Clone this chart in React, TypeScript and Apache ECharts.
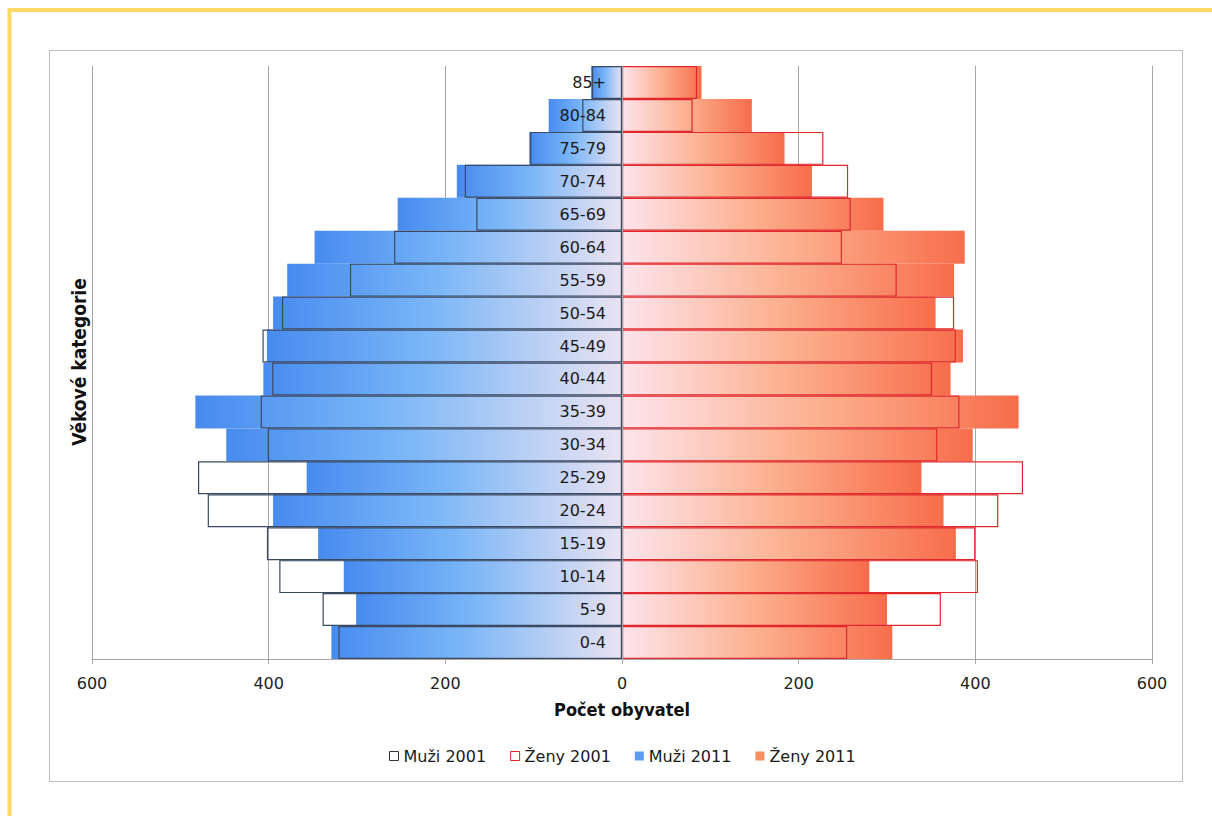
import React, { useEffect, useRef } from "react";
import * as echarts from "echarts";

const categories = ["0-4", "5-9", "10-14", "15-19", "20-24", "25-29", "30-34", "35-39", "40-44", "45-49", "50-54", "55-59", "60-64", "65-69", "70-74", "75-79", "80-84", "85+"];
const muzi2001 = [321, 339, 388, 402, 469, 480, 401, 409, 396, 407, 385, 308, 258, 165, 178, 104, 45, 34];
const zeny2001 = [255, 361, 403, 400, 426, 454, 357, 382, 351, 378, 376, 311, 249, 259, 256, 228, 80, 85];
const muzi2011 = [329, 301, 315, 344, 395, 357, 448, 483, 406, 402, 395, 379, 348, 254, 187, 105, 83, 35];
const zeny2011 = [306, 300, 280, 378, 364, 339, 397, 449, 372, 386, 355, 376, 388, 296, 215, 184, 147, 90];
const xTicks = { min: -600, max: 600, interval: 200 };

const FONT = "'DejaVu Sans', sans-serif";
const FONT_C = "'DejaVu Sans Condensed', 'DejaVu Sans', sans-serif";

const GRID_LEFT = 92;
const GRID_RIGHT = 60;
const CHART_W = 1212;

export default function App() {
  const ref = useRef<HTMLDivElement>(null);
  useEffect(() => {
    if (!ref.current) return;
    const chart = echarts.init(ref.current, null, { renderer: "svg" });
    const blueGrad = new echarts.graphic.LinearGradient(0, 0, 1, 0, [
      { offset: 0, color: "#478bef" },
      { offset: 0.45, color: "#7ab6f7" },
      { offset: 1, color: "#e9e3f2" },
    ]);
    const orangeGrad = new echarts.graphic.LinearGradient(0, 0, 1, 0, [
      { offset: 0, color: "#fde4ec" },
      { offset: 0.5, color: "#fcb08e" },
      { offset: 1, color: "#f76d4b" },
    ]);
    const halfWidth = (CHART_W - GRID_LEFT - GRID_RIGHT) / 2;
    chart.setOption({
      animation: false,
      backgroundColor: "#ffffff",
      grid: { left: GRID_LEFT, right: GRID_RIGHT, top: 66, bottom: 157, containLabel: false },
      legend: {
        bottom: 47,
        left: 384,
        itemWidth: 9,
        itemHeight: 9,
        itemGap: 24,
        icon: "rect",
        textStyle: { fontFamily: FONT, fontSize: 16, color: "#1a1a1a" },
        data: [
          { name: "Muži 2001", itemStyle: { color: "#ffffff", borderColor: "#333333", borderWidth: 1 } },
          { name: "Ženy 2001", itemStyle: { color: "#ffffff", borderColor: "#e0282c", borderWidth: 1 } },
          { name: "Muži 2011", itemStyle: { color: "#5b9bf0", borderWidth: 0 } },
          { name: "Ženy 2011", itemStyle: { color: "#f7915f", borderWidth: 0 } },
        ],
      },
      xAxis: {
        type: "value",
        min: xTicks.min,
        max: xTicks.max,
        interval: xTicks.interval,
        name: "Počet obyvatel",
        nameLocation: "middle",
        nameGap: 41,
        nameTextStyle: { fontFamily: FONT_C, fontSize: 18, fontWeight: "bold", color: "#111" },
        axisLine: { show: true, onZero: false, lineStyle: { color: "#a6a6a6", width: 1 } },
        axisTick: { show: true, length: 5, lineStyle: { color: "#a6a6a6" } },
        splitLine: { show: true, lineStyle: { color: "#a6a6a6", width: 1 } },
        axisLabel: {
          formatter: (v: number) => String(Math.abs(v)),
          fontFamily: FONT,
          fontSize: 16,
          color: "#222",
          margin: 16,
        },
      },
      yAxis: {
        type: "category",
        data: categories,
        z: 10,
        position: "left",
        offset: -halfWidth,
        axisLine: { show: true, onZero: false, lineStyle: { color: "#a6a6a6", width: 1 } },
        axisTick: { show: false },
        splitLine: { show: false },
        axisLabel: { fontFamily: FONT, fontSize: 16, color: "#1a1a1a", margin: 16 },
      },
      graphic: [
        { type: "rect", z: -10, shape: { x: 49.5, y: 50.5, width: 1133, height: 731 }, style: { fill: "none", stroke: "#bdbdbd", lineWidth: 1 } },
        { type: "line", z: 100, shape: { x1: 8, y1: 10, x2: 1212, y2: 10 }, style: { stroke: "#fcd964", lineWidth: 4 } },
        { type: "line", z: 100, shape: { x1: 9.5, y1: 8, x2: 9.5, y2: 816 }, style: { stroke: "#fcd964", lineWidth: 4 } },
        {
          type: "text",
          x: 79,
          y: 362,
          rotation: Math.PI / 2,
          style: { text: "Věkové kategorie", fontFamily: FONT_C, fontSize: 19, fontWeight: "bold", fill: "#111", align: "center", verticalAlign: "middle" },
        },
      ],
      series: [
        {
          name: "Muži 2001",
          type: "bar",
          z: 3,
          barGap: "-100%",
          barCategoryGap: "0%",
          data: muzi2001.map((v) => -v),
          itemStyle: { color: "rgba(255,255,255,0)", borderColor: "#3b4a62", borderWidth: 1.2 },
          emphasis: { disabled: true },
        },
        {
          name: "Ženy 2001",
          type: "bar",
          z: 3,
          barGap: "-100%",
          barCategoryGap: "0%",
          data: zeny2001,
          itemStyle: { color: "rgba(255,255,255,0)", borderColor: "#e0282c", borderWidth: 1.2 },
          emphasis: { disabled: true },
        },
        {
          name: "Muži 2011",
          type: "bar",
          z: 2,
          barGap: "-100%",
          barCategoryGap: "0%",
          data: muzi2011.map((v) => -v),
          itemStyle: { color: blueGrad, borderWidth: 0 },
          emphasis: { disabled: true },
        },
        {
          name: "Ženy 2011",
          type: "bar",
          z: 2,
          barGap: "-100%",
          barCategoryGap: "0%",
          data: zeny2011,
          itemStyle: { color: orangeGrad, borderWidth: 0 },
          emphasis: { disabled: true },
        },
      ],
    });
    return () => chart.dispose();
  }, []);
  return (
    <div
      ref={ref}
      style={{ position: "absolute", left: 0, top: 0, width: CHART_W, height: 816, background: "#fff" }}
    />
  );
}
